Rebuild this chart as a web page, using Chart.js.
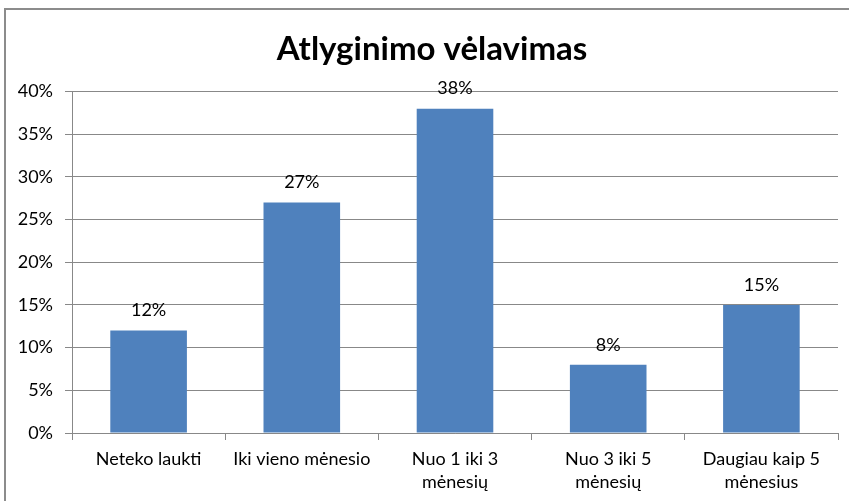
<!DOCTYPE html>
<html lang="lt">
<head>
    <meta charset="UTF-8">
    <title>Atlyginimo vėlavimas</title>
    <script src="https://cdn.jsdelivr.net/npm/chart.js"></script>
    <style>
        body { margin: 0; background: #fff; }
        .wrap { width: 849px; height: 501px; position: relative; }
    </style>
</head>
<body>

<div class="wrap">
    <canvas id="chart" width="849" height="501"></canvas>
</div>

<script>
    const chartTitle = 'Atlyginimo vėlavimas';
    const categories = [
        'Neteko laukti',
        'Iki vieno mėnesio',
        ['Nuo 1 iki 3', 'mėnesių'],
        ['Nuo 3 iki 5', 'mėnesių'],
        ['Daugiau kaip 5', 'mėnesius']
    ];
    const values = [12, 27, 38, 8, 15];
    const yTicks = [0, 5, 10, 15, 20, 25, 30, 35, 40];

    const fontFamily = 'Lato, "Open Sans", sans-serif';
    const gridColor = '#888888';

    // frame round the chart (top and left edges are visible)
    const framePlugin = {
        id: 'frame',
        afterLayout(chart) {
            // the title sits a bit right of the canvas centre
            if (chart.titleBlock) chart.titleBlock.left = 26;
        },
        beforeDraw(chart) {
            const ctx = chart.ctx;
            ctx.save();
            ctx.strokeStyle = '#8c8c8c';
            ctx.lineWidth = 2;
            ctx.beginPath();
            ctx.moveTo(5, 501);
            ctx.lineTo(5, 9);
            ctx.lineTo(849, 9);
            ctx.stroke();
            ctx.restore();
        }
    };

    // percentage labels above each bar
    const valueLabels = {
        id: 'valueLabels',
        afterDatasetsDraw(chart) {
            const ctx = chart.ctx;
            const meta = chart.getDatasetMeta(0);
            ctx.save();
            ctx.font = '18px ' + fontFamily;
            ctx.fillStyle = '#000';
            ctx.textAlign = 'center';
            ctx.textBaseline = 'middle';
            meta.data.forEach((bar, i) => {
                ctx.fillText(values[i] + '%', bar.x, bar.y - 20);
            });
            ctx.restore();
        }
    };

    new Chart(document.getElementById('chart'), {
        type: 'bar',
        data: {
            labels: categories,
            datasets: [{
                data: values,
                backgroundColor: '#4F81BD',
                barPercentage: 0.5,
                categoryPercentage: 1
            }]
        },
        options: {
            responsive: false,
            animation: false,
            layout: { padding: { left: 0, right: 11, top: 0, bottom: 0 } },
            plugins: {
                legend: { display: false },
                tooltip: { enabled: false },
                title: {
                    display: true,
                    text: chartTitle,
                    color: '#000',
                    font: { family: fontFamily, size: 33, weight: 'bold' },
                    padding: { top: 30, bottom: 22 }
                }
            },
            scales: {
                x: {
                    grid: {
                        drawOnChartArea: false,
                        drawTicks: true,
                        tickLength: 7,
                        color: gridColor
                    },
                    border: { color: gridColor },
                    ticks: {
                        color: '#000',
                        font: { family: fontFamily, size: 18, lineHeight: 1.3 },
                        padding: 7,
                        maxRotation: 0,
                        autoSkip: false
                    },
                    afterFit(axis) { axis.height = 68; }
                },
                y: {
                    min: 0,
                    max: 40,
                    afterBuildTicks(axis) {
                        axis.ticks = yTicks.map(v => ({ value: v }));
                    },
                    grid: {
                        color: gridColor,
                        tickLength: 7
                    },
                    border: { color: gridColor },
                    ticks: {
                        color: '#000',
                        font: { family: fontFamily, size: 18 },
                        padding: 12,
                        callback: v => v + '%'
                    },
                    afterFit(axis) { axis.width = 72; }
                }
            }
        },
        plugins: [framePlugin, valueLabels]
    });
</script>

</body>
</html>
